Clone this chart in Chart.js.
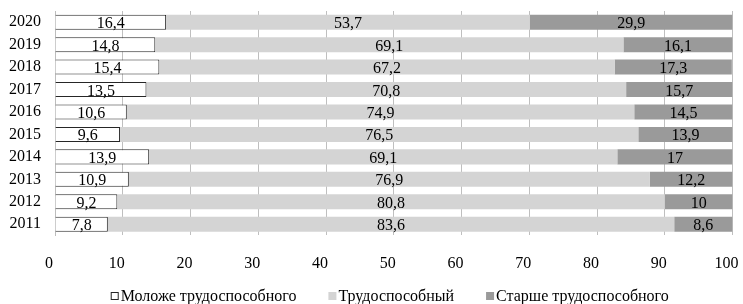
<!DOCTYPE html>
<html>
<head>
<meta charset="utf-8">
<script src="https://cdn.jsdelivr.net/npm/chart.js@4"></script>
<style>
  html, body { margin: 0; padding: 0; background: #fff; }
  #wrap { width: 743px; height: 304px; }
</style>
</head>
<body>
<div id="wrap"><canvas id="chart"></canvas></div>
<script>
// years, bottom to top
const years = ['2011', '2012', '2013', '2014', '2015', '2016', '2017', '2018', '2019', '2020'];
const youngerShare = [7.8, 9.2, 10.9, 13.9, 9.6, 10.6, 13.5, 15.4, 14.8, 16.4];
const workingShare = [83.6, 80.8, 76.9, 69.1, 76.5, 74.9, 70.8, 67.2, 69.1, 53.7];
const olderShare = [8.6, 10, 12.2, 17, 13.9, 14.5, 15.7, 17.3, 16.1, 29.9];
const seriesNames = ['Моложе трудоспособного', 'Трудоспособный', 'Старше трудоспособного'];

const FONT = "'Liberation Serif', 'Times New Roman', serif";

// value labels in the middle of each segment, comma as decimal sign
const segmentLabels = {
    id: 'segmentLabels',
    afterDatasetsDraw(chart) {
        const ctx = chart.ctx;
        ctx.save();
        ctx.font = '16px ' + FONT;
        ctx.fillStyle = '#000';
        ctx.textAlign = 'center';
        ctx.textBaseline = 'alphabetic';
        chart.data.datasets.forEach((ds, i) => {
            chart.getDatasetMeta(i).data.forEach((bar, j) => {
                const x = (bar.x + bar.base) / 2;
                ctx.fillText(String(ds.data[j]).replace('.', ','), x, bar.y + 6);
            });
        });
        ctx.restore();
    }
};

// legend drawn by hand: small square right against the text
const bottomLegend = {
    id: 'bottomLegend',
    afterDraw(chart) {
        const ctx = chart.ctx;
        const box = 8, gap = 2, spacing = 32;
        ctx.save();
        ctx.font = '16px ' + FONT;
        const widths = chart.data.datasets.map(ds => box + gap + ctx.measureText(ds.label).width);
        const total = widths.reduce((a, b) => a + b, 0) + spacing * (widths.length - 1);
        const area = chart.chartArea;
        let x = (area.left + area.right) / 2 - total / 2 - 4;
        const y = 296;
        chart.data.datasets.forEach((ds, i) => {
            ctx.fillStyle = ds.backgroundColor;
            ctx.fillRect(x, y - box / 2, box, box);
            if (ds.borderWidth) {
                ctx.strokeStyle = ds.borderColor;
                ctx.lineWidth = 1;
                ctx.strokeRect(x + 0.5, y - box / 2 + 0.5, box - 1, box - 1);
            }
            ctx.fillStyle = '#000';
            ctx.textAlign = 'left';
            ctx.textBaseline = 'middle';
            ctx.fillText(ds.label, x + box + gap, y + 1);
            x += widths[i] + spacing;
        });
        ctx.restore();
    }
};

new Chart(document.getElementById('chart'), {
    type: 'bar',
    data: {
        labels: years,
        datasets: [
            { label: seriesNames[0], data: youngerShare, backgroundColor: '#ffffff', borderColor: '#262626', borderWidth: 1 },
            { label: seriesNames[1], data: workingShare, backgroundColor: '#d4d4d4', borderWidth: 0 },
            { label: seriesNames[2], data: olderShare, backgroundColor: '#9a9a9a', borderWidth: 0 }
        ]
    },
    options: {
        indexAxis: 'y',
        responsive: true,
        maintainAspectRatio: false,
        animation: false,
        layout: { padding: { top: 11, right: 10.5, bottom: 30, left: 0 } },
        datasets: { bar: { barPercentage: 0.67, categoryPercentage: 1 } },
        plugins: {
            legend: { display: false },
            tooltip: { enabled: false }
        },
        scales: {
            x: {
                stacked: true,
                min: 0,
                max: 100,
                ticks: { stepSize: 10, padding: 19, labelOffset: -6, color: '#000', font: { family: FONT, size: 16 } },
                grid: { display: true, color: '#bfbfbf', lineWidth: 1, drawTicks: false },
                border: { display: false },
                afterFit(scale) {
                    scale.height = 38.6;
                    scale.paddingLeft = 0;
                    scale.paddingRight = 0;
                }
            },
            y: {
                stacked: true,
                reverse: true,
                ticks: { autoSkip: false, padding: 14, color: '#000', font: { family: FONT, size: 16 } },
                grid: { display: false, drawTicks: false },
                border: { display: true, color: '#bdbdbd', width: 1 },
                afterFit(scale) {
                    scale.width = 55;
                    scale.paddingTop = 0;
                    scale.paddingBottom = 0;
                }
            }
        }
    },
    plugins: [segmentLabels, bottomLegend]
});
</script>
</body>
</html>
